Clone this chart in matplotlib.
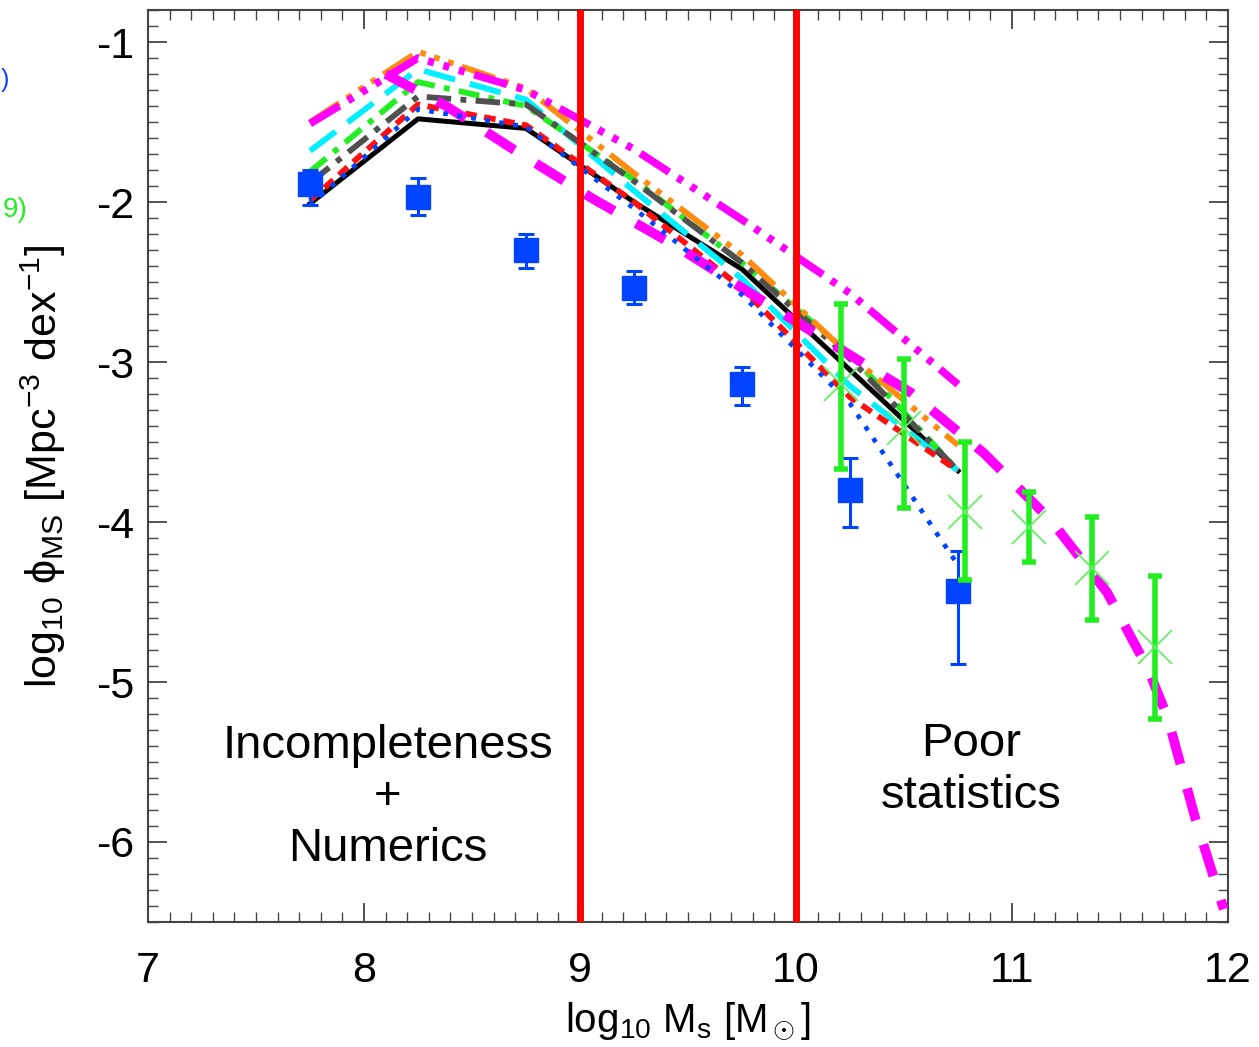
#!/usr/bin/env python3
"""Stellar mass function: model variants vs. observations."""

import matplotlib

matplotlib.use("Agg")
import matplotlib.pyplot as plt  # noqa: E402
from matplotlib.ticker import MultipleLocator  # noqa: E402

plt.rcParams["font.family"] = ["Liberation Sans", "DejaVu Sans"]
plt.rcParams["mathtext.fontset"] = "custom"
plt.rcParams["mathtext.rm"] = "Liberation Sans"
plt.rcParams["mathtext.it"] = "Liberation Sans"
plt.rcParams["axes.unicode_minus"] = False

# model mass bins (log10 Ms)
mass_bins = [7.75, 8.25, 8.75, 9.25, 9.75, 10.25, 10.75]

# model variants, log10 phi at each bin
phi_black = [-2.01, -1.48, -1.54, -2.00, -2.42, -3.05, -3.68]
phi_blue = [-2.02, -1.42, -1.53, -2.04, -2.58, -3.26, -4.27]
phi_red = [-1.99, -1.39, -1.52, -2.00, -2.54, -3.22, -3.68]
phi_cyan = [-1.68, -1.17, -1.36, -1.93, -2.48, -3.15, -3.68]
phi_green = [-1.81, -1.25, -1.40, -1.86, -2.38, -2.95, -3.68]
phi_gray = [-1.88, -1.34, -1.39, -1.87, -2.38, -2.98, -3.68]
phi_orange = [-1.50, -1.06, -1.29, -1.82, -2.33, -2.96, -3.52]
phi_magenta = [-1.51, -1.10, -1.30, -1.67, -2.11, -2.57, -3.14]

# observed mass function (blue squares)
obs_mass = [7.75, 8.25, 8.75, 9.25, 9.75, 10.25, 10.75]
obs_phi = [-1.89, -1.97, -2.30, -2.54, -3.14, -3.80, -4.43]
obs_hi = [-1.80, -1.85, -2.20, -2.43, -3.03, -3.60, -4.18]
obs_lo = [-2.02, -2.08, -2.41, -2.64, -3.27, -4.03, -4.89]

# second observational set (green crosses)
ref_mass = [10.21, 10.50, 10.78, 11.08, 11.37, 11.66]
ref_phi = [-3.14, -3.41, -3.94, -4.03, -4.29, -4.78]
ref_hi = [-2.64, -2.98, -3.50, -3.81, -3.97, -4.34]
ref_lo = [-3.67, -3.91, -4.36, -4.25, -4.61, -5.23]

# fitted function (thick magenta dashed)
fit_mass = [8.10, 8.38, 8.69, 9.06, 9.45, 9.80, 10.17, 10.53, 10.87,
            11.18, 11.44, 11.63, 11.72, 11.85, 11.98]
fit_phi = [-1.20, -1.40, -1.67, -1.98, -2.28, -2.58, -2.89, -3.19, -3.57,
           -3.99, -4.44, -4.92, -5.22, -5.86, -6.42]

# limits of the reliable range
cut_mass = [9.0, 10.0]

fig = plt.figure(figsize=(12.59, 10.47), dpi=100)
ax = fig.add_axes([0.1176, 0.1194, 0.8578, 0.871])

ax.plot(mass_bins, phi_black, color="black", lw=3.6, zorder=3)
ax.plot(mass_bins, phi_red, color="#ff1010", lw=4.2, ls=(0, (2.0, 1.3)), zorder=4)
ax.plot(mass_bins, phi_cyan, color="#00f0ff", lw=4.2, ls=(0, (5.5, 2.6)), zorder=3)
ax.plot(mass_bins, phi_green, color="#22ee22", lw=4.2,
        ls=(0, (3.6, 1.6, 1.0, 1.6)), zorder=3)
ax.plot(mass_bins, phi_gray, color="#505050", lw=4.2,
        ls=(0, (4.2, 1.6, 1.0, 1.6)), zorder=3)
ax.plot(mass_bins, phi_orange, color="#ff8c10", lw=4.2,
        ls=(0, (6.0, 1.5, 1.0, 1.5, 1.0, 1.5, 1.0, 1.5)), zorder=3)
ax.plot(mass_bins, phi_magenta, color="#ff00ff", lw=5.5,
        ls=(0, (4.5, 1.3, 0.8, 1.3, 0.8, 1.3, 0.8, 1.3)), zorder=3)
ax.plot(mass_bins, phi_blue, color="#0044ff", lw=3.4, ls=(0, (1.0, 2.0)), zorder=5)

ax.plot(fit_mass, fit_phi, color="#ff00ff", lw=7.0, ls=(0, (3.4, 2.6)), zorder=4)

obs_err = [[p - lo for p, lo in zip(obs_phi, obs_lo)],
           [hi - p for p, hi in zip(obs_phi, obs_hi)]]
ax.errorbar(obs_mass, obs_phi, yerr=obs_err, fmt="s", color="#0044ff",
            ms=17, elinewidth=2.2, capsize=6, capthick=2.2, zorder=6)

ref_err = [[p - lo for p, lo in zip(ref_phi, ref_lo)],
           [hi - p for p, hi in zip(ref_phi, ref_hi)]]
ax.errorbar(ref_mass, ref_phi, yerr=ref_err, fmt="none", ecolor="#22ee22",
            elinewidth=4.0, capsize=5, capthick=4.0, zorder=7)
ax.plot(ref_mass, ref_phi, ls="none", marker="x", ms=24, mew=1.3,
        color="#66ee66", zorder=7)

for m in cut_mass:
    ax.axvline(m, color="#ff0000", lw=5.0, zorder=8)

ax.text(8.11, -5.72, "Incompleteness\n+\nNumerics", ha="center", va="center",
        fontsize=34, linespacing=1.22)
ax.text(10.81, -5.55, "Poor\nstatistics", ha="center", va="center",
        fontsize=34, linespacing=1.22)

ax.set_xlim(7, 12)
ax.set_ylim(-6.5, -0.8)
ax.xaxis.set_major_locator(MultipleLocator(1))
ax.xaxis.set_minor_locator(MultipleLocator(0.1))
ax.yaxis.set_major_locator(MultipleLocator(1))
ax.yaxis.set_minor_locator(MultipleLocator(0.1))
ax.tick_params(which="both", direction="in", top=True, right=True,
               color="#444444")
ax.tick_params(which="major", length=14, width=1.3, labelsize=31)
ax.tick_params(which="minor", length=7, width=1.0)
ax.tick_params(axis="x", which="major", pad=21)
ax.tick_params(axis="y", which="major", pad=10)
for spine in ax.spines.values():
    spine.set_linewidth(1.5)
    spine.set_color("#444444")

ax.set_xlabel(r"log$_{10}$ M$_{\rm s}$ [M$_\odot$]", fontsize=29, labelpad=7)
ax.set_ylabel(r"log$_{10}$ $\phi_{\rm MS}$ [Mpc$^{-3}$ dex$^{-1}$]",
              fontsize=31, labelpad=20)

# legend fragments at the left edge (the legend itself lies outside the crop)
fig.text(0.5 / 1259, 1 - 80 / 1047, ")", color="#0044ff", fontsize=18,
         ha="left", va="center")
fig.text(28 / 1259, 1 - 210 / 1047, "9)", color="#22ee22", fontsize=20,
         ha="right", va="center")

fig.savefig("out.png", dpi=100)
plt.close(fig)
